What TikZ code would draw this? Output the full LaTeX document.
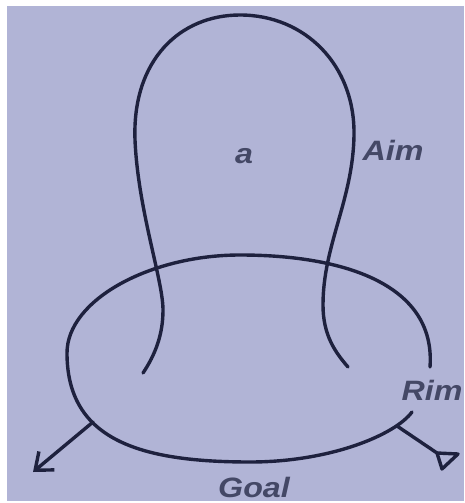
\documentclass[tikz,border=0pt]{standalone}
\usepackage{fontspec}
\setmainfont{Liberation Sans}
\usetikzlibrary{arrows.meta}
\definecolor{bg}{RGB}{177,180,214}
\definecolor{ink}{RGB}{30,33,62}
\definecolor{txt}{RGB}{68,72,102}
\tikzset{
  curve/.style={draw=ink, line width=3.4pt, line cap=round, line join=round},
  lbl/.style={text=txt, font=\fontsize{28}{30}\selectfont\bfseries\itshape, inner sep=0pt},
}
\newcommand{\wide}[1]{\scalebox{1.15}[1]{#1}}
\begin{document}
\begin{tikzpicture}[x=1pt,y=-1pt]
\useasboundingbox (0,0) rectangle (464,503);
\fill[white] (0,0) rectangle (464,503);
\fill[bg] (7,6) rectangle (464,501);
% loop "Aim"
\draw[curve] (143,373) .. controls (155,355) and (163,335) .. (163,310)
  .. controls (163,280) and (138,210) .. (135,140)
  .. controls (132,60) and (180,15) .. (240,15)
  .. controls (305,15) and (355,65) .. (354,135)
  .. controls (353,200) and (323,245) .. (323,305)
  .. controls (323,335) and (335,352) .. (348,367);
% rim ellipse (open at right)
\coordinate (L) at (93,422);
\coordinate (R) at (397,426);
\draw[curve] (430,367) .. controls (436,285) and (345,255) .. (240,255)
  .. controls (150,255) and (67,300) .. (67,353)
  .. controls (67,440) and (140,462) .. (250,462)
  .. controls (330,462) and (395,435) .. (412,412);
% left arrow
\coordinate (Ltip) at (33,472);
\draw[curve, -{Straight Barb[length=15pt,width=24pt,line width=3.4pt]}] (L) -- (Ltip);
% right tail with open triangle
\coordinate (Rt) at (437,453);
\coordinate (T1) at (458,454);
\coordinate (T2) at (442,469);
\draw[curve] (R) -- (Rt);
\draw[curve] (Rt) -- (T1) -- (T2) -- cycle;
% labels
\node[lbl] (a) at (244,156) {\wide{a}};
\node[lbl] (aim) at (393,150) {\wide{Aim}};
\node[lbl] (rim) at (432,390) {\wide{Rim}};
\node[lbl] (goal) at (254,487) {\wide{Goal}};
\end{tikzpicture}
\end{document}
